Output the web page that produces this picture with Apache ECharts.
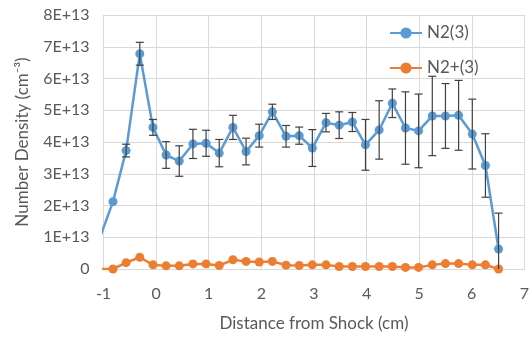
<!DOCTYPE html>
<html>
<head>
<meta charset="utf-8">
<script src="https://cdn.jsdelivr.net/npm/echarts@6/dist/echarts.min.js"></script>
<style>
html,body{margin:0;padding:0;background:#fff;}
#chart{width:532px;height:337px;}
</style>
</head>
<body>
<div id="chart"></div>
<script>
// Distance from shock (cm)
const xValues = [-1.07, -0.82, -0.57, -0.31, -0.06, 0.19, 0.44, 0.70, 0.95, 1.20, 1.46, 1.71, 1.96, 2.21, 2.47, 2.72, 2.97, 3.23, 3.48, 3.73, 3.98, 4.24, 4.49, 4.74, 4.99, 5.25, 5.50, 5.75, 6.01, 6.26, 6.51];
// N2(3) number density (cm^-3)
const n2Values = [0.98e13, 2.12e13, 3.73e13, 6.78e13, 4.46e13, 3.59e13, 3.40e13, 3.94e13, 3.96e13, 3.65e13, 4.46e13, 3.70e13, 4.20e13, 4.95e13, 4.18e13, 4.20e13, 3.81e13, 4.61e13, 4.53e13, 4.63e13, 3.91e13, 4.38e13, 5.22e13, 4.44e13, 4.35e13, 4.82e13, 4.82e13, 4.84e13, 4.25e13, 3.26e13, 0.63e13];
// N2(3) error (+/-)
const n2Errors = [0, 0, 0.20e13, 0.36e13, 0.25e13, 0.42e13, 0.48e13, 0.46e13, 0.41e13, 0.43e13, 0.38e13, 0.42e13, 0.36e13, 0.24e13, 0.34e13, 0.27e13, 0.58e13, 0.29e13, 0.42e13, 0.30e13, 0.80e13, 0.92e13, 0.45e13, 1.14e13, 1.16e13, 1.25e13, 1.02e13, 1.10e13, 1.10e13, 1.00e13, 1.13e13];
// N2+(3) number density (cm^-3)
const n2pValues = [0.0e13, 0.0e13, 0.20e13, 0.37e13, 0.13e13, 0.10e13, 0.10e13, 0.16e13, 0.16e13, 0.11e13, 0.29e13, 0.24e13, 0.22e13, 0.24e13, 0.12e13, 0.11e13, 0.13e13, 0.13e13, 0.08e13, 0.08e13, 0.08e13, 0.08e13, 0.08e13, 0.05e13, 0.05e13, 0.13e13, 0.17e13, 0.17e13, 0.13e13, 0.13e13, 0.0e13];
const seriesNames = ['N2(3)', 'N2+(3)'];
const xTitle = 'Distance from Shock (cm)';
const yTitle = 'Number Density (cm\u207B\u00B3)';

const n2Data = xValues.map((x, i) => [x, n2Values[i]]);
const n2pData = xValues.map((x, i) => [x, n2pValues[i]]);
const errData = xValues.map((x, i) => [x, n2Values[i] - n2Errors[i], n2Values[i] + n2Errors[i]]);

const FONT = 'Lato, "Open Sans", sans-serif';
const TXT = '#595959';

const chart = echarts.init(document.getElementById('chart'), null, {renderer: 'canvas'});
chart.setOption({
  animation: false,
  textStyle: {fontFamily: FONT},
  grid: {left: 103.5, top: 15, width: 427, bottom: 66, containLabel: false},
  legend: {
    orient: 'vertical',
    left: 384, top: 19,
    itemWidth: 32, itemHeight: 14, itemGap: 17,
    textStyle: {fontFamily: FONT, fontSize: 17, lineHeight: 18, color: TXT},
    data: seriesNames
  },
  xAxis: {
    type: 'value', min: -1, max: 7, interval: 1,
    name: xTitle, nameLocation: 'middle', nameGap: 46,
    nameTextStyle: {fontFamily: FONT, fontSize: 17, color: TXT},
    axisLine: {show: true, lineStyle: {color: '#d9d9d9'}},
    axisTick: {show: false},
    axisLabel: {color: TXT, fontFamily: FONT, fontSize: 16, margin: 17, showMaxLabel: true},
    splitLine: {show: true, lineStyle: {color: '#d9d9d9', width: 1}}
  },
  yAxis: {
    type: 'value', min: 0, max: 8e13, interval: 1e13,
    name: yTitle, nameLocation: 'middle', nameGap: 72, nameRotate: 90,
    nameTextStyle: {fontFamily: FONT, fontSize: 17, color: TXT},
    axisLine: {show: false},
    axisTick: {show: false},
    axisLabel: {
      color: TXT, fontFamily: FONT, fontSize: 16, margin: 14,
      formatter: v => v === 0 ? '0' : Math.round(v / 1e13) + 'E+13'
    },
    splitLine: {show: true, lineStyle: {color: '#d9d9d9', width: 1}}
  },
  series: [
    {
      name: seriesNames[0], type: 'line', data: n2Data, clip: true,
      symbol: 'circle', symbolSize: 9,
      lineStyle: {color: '#5B9BD5', width: 2.5},
      itemStyle: {color: '#5B9BD5'},
      z: 3
    },
    {
      name: seriesNames[1], type: 'line', data: n2pData, clip: true,
      symbol: 'circle', symbolSize: 9,
      lineStyle: {color: '#ED7D31', width: 2.5},
      itemStyle: {color: '#ED7D31'},
      z: 3
    },
    {
      type: 'custom', name: 'err', data: errData, clip: true, z: 4,
      renderItem: function (params, api) {
        const x = api.value(0);
        const lo = api.value(1), hi = api.value(2);
        if (hi === lo) return null;
        const p1 = api.coord([x, lo]);
        const p2 = api.coord([x, hi]);
        const w = 4;
        const st = {stroke: '#404040', lineWidth: 1.2};
        return {
          type: 'group',
          children: [
            {type: 'line', shape: {x1: p1[0], y1: p1[1], x2: p2[0], y2: p2[1]}, style: st},
            {type: 'line', shape: {x1: p1[0] - w, y1: p1[1], x2: p1[0] + w, y2: p1[1]}, style: st},
            {type: 'line', shape: {x1: p2[0] - w, y1: p2[1], x2: p2[0] + w, y2: p2[1]}, style: st}
          ]
        };
      },
      encode: {x: 0, y: [1, 2]}
    }
  ]
});
</script>
</body>
</html>
